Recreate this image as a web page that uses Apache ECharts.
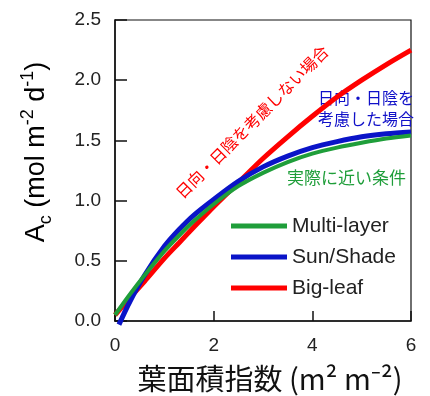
<!DOCTYPE html>
<html><head><meta charset="utf-8">
<script src="https://cdn.jsdelivr.net/npm/echarts@6/dist/echarts.min.js"></script>
<style>html,body{margin:0;padding:0;background:#fff}#c{width:430px;height:396px}</style>
</head><body><div id="c"></div>
<script>
const multiX = [0, 0.3, 0.6, 1.0, 1.3, 1.6, 2.0, 2.5, 3.0, 3.5, 4.0, 4.5, 5.0, 5.5, 6.0];
const multiY = [0.05, 0.22, 0.38, 0.58, 0.71, 0.83, 0.97, 1.12, 1.23, 1.32, 1.39, 1.44, 1.48, 1.515, 1.54];
const sunX = [0.08, 0.3, 0.6, 1.0, 1.3, 1.6, 2.0, 2.5, 3.0, 3.5, 4.0, 4.5, 5.0, 5.5, 6.0];
const sunY = [-0.03, 0.16, 0.38, 0.62, 0.76, 0.88, 1.01, 1.16, 1.28, 1.37, 1.44, 1.49, 1.53, 1.555, 1.57];
const bigX = [0, 0.3, 0.6, 1.0, 1.3, 1.6, 2.0, 2.5, 3.0, 3.5, 4.0, 4.5, 5.0, 5.5, 6.0];
const bigY = [0.05, 0.19, 0.33, 0.52, 0.65, 0.78, 0.95, 1.15, 1.35, 1.53, 1.70, 1.86, 2.00, 2.13, 2.25];
const seriesNames = ['Multi-layer', 'Sun/Shade', 'Big-leaf'];
const xTicks = [0, 2, 4, 6];
const yTicks = [0.0, 0.5, 1.0, 1.5, 2.0, 2.5];

const pairs = (xs, ys) => xs.map((x, i) => [x, ys[i]]);
const colors = { 'Multi-layer': '#1f9e3a', 'Sun/Shade': '#0a14c8', 'Big-leaf': '#ff0000' };

const chart = echarts.init(document.getElementById('c'), null, { renderer: 'canvas' });
const lbl = { fontFamily: 'Liberation Sans, Arial, sans-serif', fontSize: 19, color: '#222' };
const lineCommon = { type: 'line', smooth: 0.3, showSymbol: false, clip: false };
chart.setOption({
  animation: false,
  grid: { left: 115, right: 19, top: 20, bottom: 75, show: true, borderColor: '#111', borderWidth: 1.2, backgroundColor: 'transparent' },
  xAxis: {
    type: 'value', min: xTicks[0], max: xTicks[xTicks.length - 1], interval: 2,
    axisLine: { show: true, lineStyle: { color: '#111', width: 1.5 } },
    axisTick: { show: true, inside: true, length: 10, lineStyle: { color: '#111', width: 1.5 } },
    axisLabel: Object.assign({ margin: 15, formatter: v => String(v) }, lbl),
    splitLine: { show: false }
  },
  yAxis: {
    type: 'value', min: yTicks[0], max: yTicks[yTicks.length - 1], interval: 0.5,
    axisLine: { show: true, lineStyle: { color: '#111', width: 1.5 } },
    axisTick: { show: true, inside: true, length: 12, lineStyle: { color: '#111', width: 1.5 } },
    axisLabel: Object.assign({ margin: 14, formatter: v => v.toFixed(1) }, lbl),
    splitLine: { show: false }
  },
  legend: {
    data: seriesNames, orient: 'vertical', left: 226, top: 210,
    icon: 'rect', itemWidth: 56, itemHeight: 5, itemGap: 9,
    textStyle: { fontFamily: 'Liberation Sans, Arial, sans-serif', fontSize: 21, color: '#222', lineHeight: 22 }
  },
  series: [
    Object.assign({ name: 'Big-leaf', data: pairs(bigX, bigY), z: 2,
      lineStyle: { color: colors['Big-leaf'], width: 5 }, itemStyle: { color: colors['Big-leaf'] } }, lineCommon),
    Object.assign({ name: 'Sun/Shade', data: pairs(sunX, sunY), z: 3,
      lineStyle: { color: colors['Sun/Shade'], width: 5 }, itemStyle: { color: colors['Sun/Shade'] } }, lineCommon),
    Object.assign({ name: 'Multi-layer', data: pairs(multiX, multiY), z: 4,
      lineStyle: { color: colors['Multi-layer'], width: 4 }, itemStyle: { color: colors['Multi-layer'] } }, lineCommon)
  ],
  graphic: [
    { type: 'text', x: 37, y: 152, rotation: Math.PI / 2, style: {
        text: '{m|A}{sub|c}{m| (mol m}{sup|-2}{m| d}{sup|-1}{m|)}',
        align: 'center', verticalAlign: 'middle',
        rich: {
          m: { fontFamily: 'Liberation Sans, Arial, sans-serif', fontSize: 27, color: '#222', lineHeight: 36 },
          sub: { fontFamily: 'Liberation Sans, Arial, sans-serif', fontSize: 18, color: '#222', verticalAlign: 'bottom', lineHeight: 18 },
          sup: { fontFamily: 'Liberation Sans, Arial, sans-serif', fontSize: 18, color: '#222', verticalAlign: 'top', lineHeight: 18 }
        } } },
    { type: 'text', x: 270, y: 379, style: {
        text: '葉面積指数 (m² m⁻²)', align: 'center', verticalAlign: 'middle',
        font: '29px "Noto Sans CJK JP", sans-serif', fill: '#111' } },
    { type: 'text', x: 252, y: 122, rotation: Math.PI / 4, style: {
        text: '日向・日陰を考慮しない場合', align: 'center', verticalAlign: 'middle',
        font: '16px "Noto Sans CJK JP", sans-serif', fill: '#ff0000' } },
    { type: 'text', x: 318, y: 108, style: {
        text: '日向・日陰を\n考慮した場合', align: 'left', verticalAlign: 'middle',
        font: '16px "Noto Sans CJK JP", sans-serif', fill: '#1010c8', lineHeight: 21 } },
    { type: 'text', x: 287, y: 178, style: {
        text: '実際に近い条件', align: 'left', verticalAlign: 'middle',
        font: '17px "Noto Sans CJK JP", sans-serif', fill: '#1f9e3a' } }
  ]
});
</script></body></html>
